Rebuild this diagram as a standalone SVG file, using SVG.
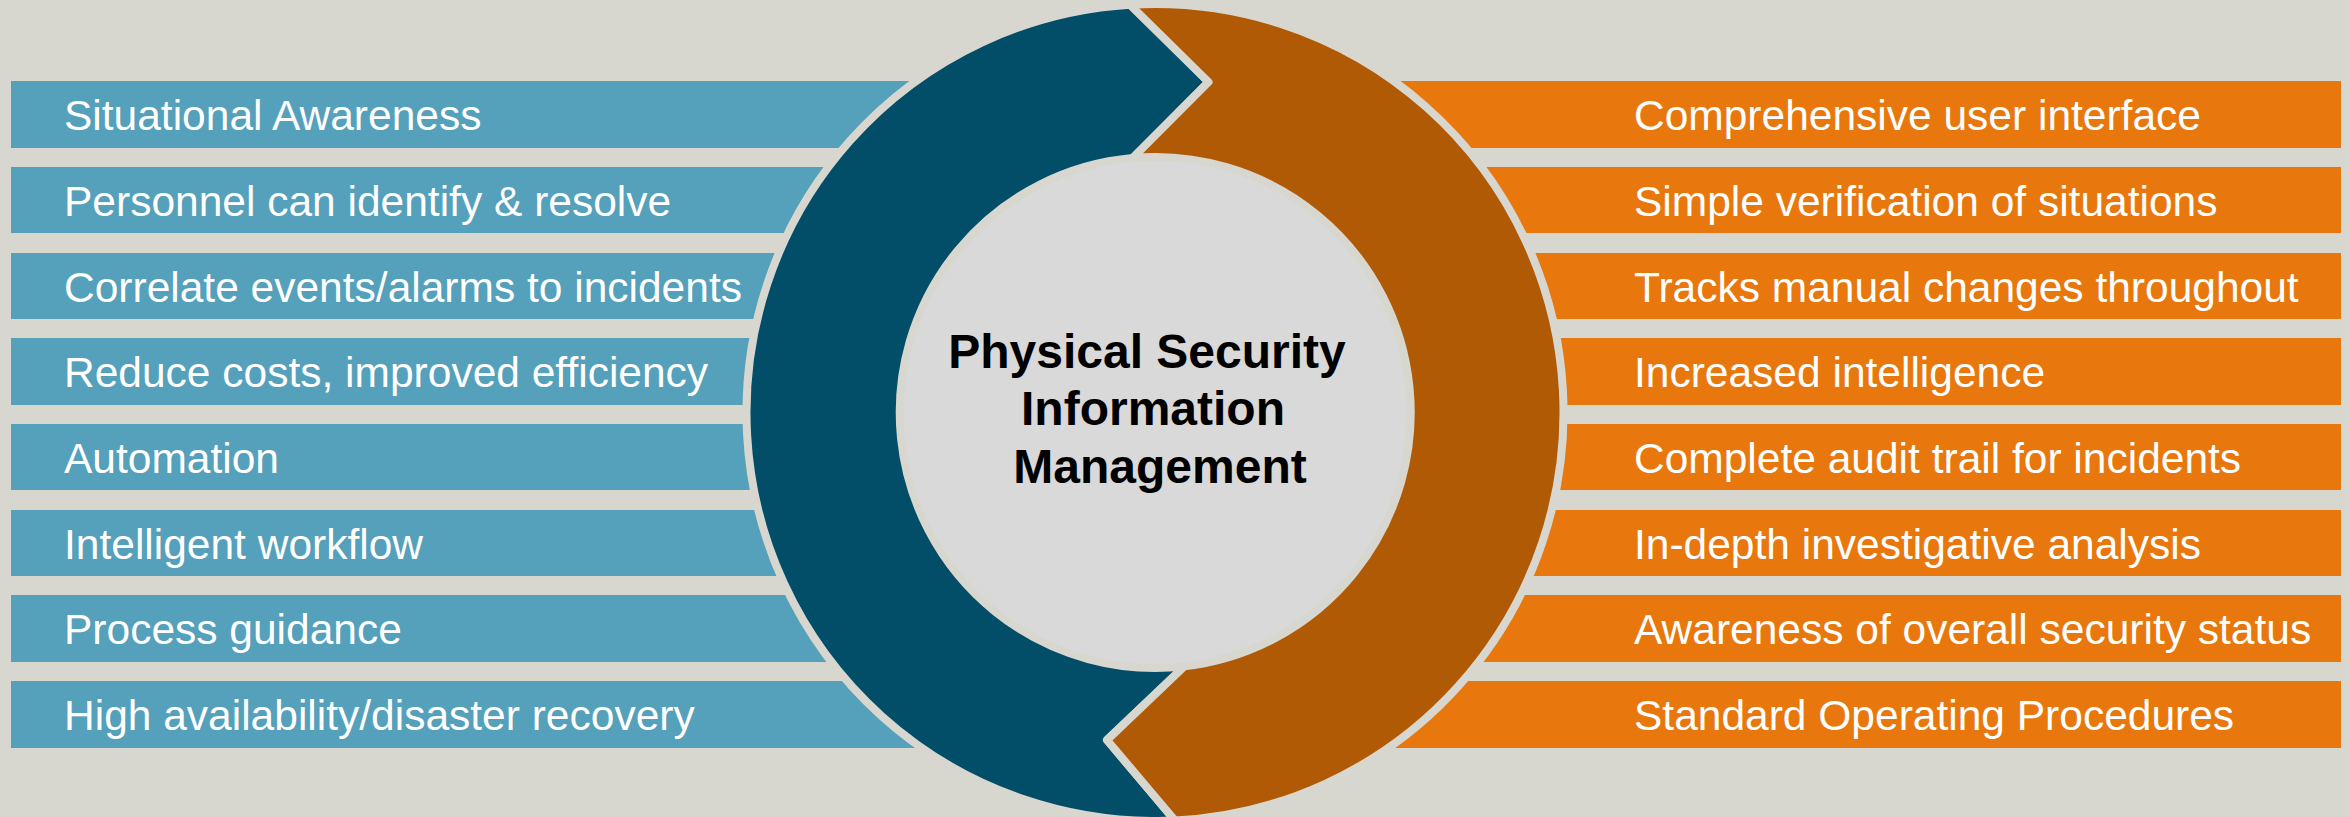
<svg xmlns="http://www.w3.org/2000/svg" width="2350" height="817" viewBox="0 0 2350 817">
<style>
.bg{fill:#D8D7CF}
.lbar{fill:#55A0BA}
.rbar{fill:#E8780D}
.seg{stroke:#D8D7CF;stroke-width:8;stroke-linejoin:round}
.item{font-family:"Liberation Sans",Arial,sans-serif;font-size:42.5px;fill:#FFFFFF}
.title{font-family:"Liberation Sans",Arial,sans-serif;font-size:48px;font-weight:bold;fill:#000000;text-anchor:middle}
</style>
<rect class="bg" x="0" y="0" width="2350" height="817"/>
<g id="left-bars">
<g id="l1"><rect class="lbar" x="11" y="81" width="1144" height="67"/><text class="item" x="64" y="129.5">Situational Awareness</text></g>
<g id="l2"><rect class="lbar" x="11" y="167" width="1144" height="66"/><text class="item" x="64" y="215.5">Personnel can identify &amp; resolve</text></g>
<g id="l3"><rect class="lbar" x="11" y="253" width="1144" height="66"/><text class="item" x="64" y="301.5">Correlate events/alarms to incidents</text></g>
<g id="l4"><rect class="lbar" x="11" y="338" width="1144" height="67"/><text class="item" x="64" y="386.5">Reduce costs, improved efficiency</text></g>
<g id="l5"><rect class="lbar" x="11" y="424" width="1144" height="66"/><text class="item" x="64" y="472.5">Automation</text></g>
<g id="l6"><rect class="lbar" x="11" y="510" width="1144" height="66"/><text class="item" x="64" y="558.5">Intelligent workflow</text></g>
<g id="l7"><rect class="lbar" x="11" y="595" width="1144" height="67"/><text class="item" x="64" y="643.5">Process guidance</text></g>
<g id="l8"><rect class="lbar" x="11" y="681" width="1144" height="67"/><text class="item" x="64" y="729.5">High availability/disaster recovery</text></g>
</g>
<g id="right-bars">
<g id="r1"><rect class="rbar" x="1155" y="81" width="1186" height="67"/><text class="item" x="1634" y="129.5">Comprehensive user interface</text></g>
<g id="r2"><rect class="rbar" x="1155" y="167" width="1186" height="66"/><text class="item" x="1634" y="215.5">Simple verification of situations</text></g>
<g id="r3"><rect class="rbar" x="1155" y="253" width="1186" height="66"/><text class="item" x="1634" y="301.5">Tracks manual changes throughout</text></g>
<g id="r4"><rect class="rbar" x="1155" y="338" width="1186" height="67"/><text class="item" x="1634" y="386.5">Increased intelligence</text></g>
<g id="r5"><rect class="rbar" x="1155" y="424" width="1186" height="66"/><text class="item" x="1634" y="472.5">Complete audit trail for incidents</text></g>
<g id="r6"><rect class="rbar" x="1155" y="510" width="1186" height="66"/><text class="item" x="1634" y="558.5">In-depth investigative analysis</text></g>
<g id="r7"><rect class="rbar" x="1155" y="595" width="1186" height="67"/><text class="item" x="1634" y="643.5">Awareness of overall security status</text></g>
<g id="r8"><rect class="rbar" x="1155" y="681" width="1186" height="67"/><text class="item" x="1634" y="729.5">Standard Operating Procedures</text></g>
</g>
<circle class="bg" cx="1155" cy="412.5" r="411"/>
<g id="ring">
<path id="blue-seg" class="seg" fill="#024D68" d="M 1130.06 4.76 L 1208.5 82 L 1132.73 157.97 A 255.5 255.5 0 1 0 1184.37 666.31 L 1107 740 L 1174.96 820.51 A 408.5 408.5 0 0 1 1130.06 4.76 Z"/>
<path id="orange-seg" class="seg" fill="#B05A06" d="M 1130.06 4.76 A 408.5 408.5 0 1 1 1174.96 820.51 L 1107 740 L 1184.37 666.31 A 255.5 255.5 0 0 0 1132.73 157.97 L 1208.5 82 Z"/>
</g>
<g id="center">
<circle cx="1155" cy="412.5" r="251.5" fill="#D9D9D9"/>
<text class="title" x="1147" y="368">Physical Security</text>
<text class="title" x="1153" y="425">Information</text>
<text class="title" x="1160" y="483">Management</text>
</g>
<g id="connectors"></g>
</svg>
